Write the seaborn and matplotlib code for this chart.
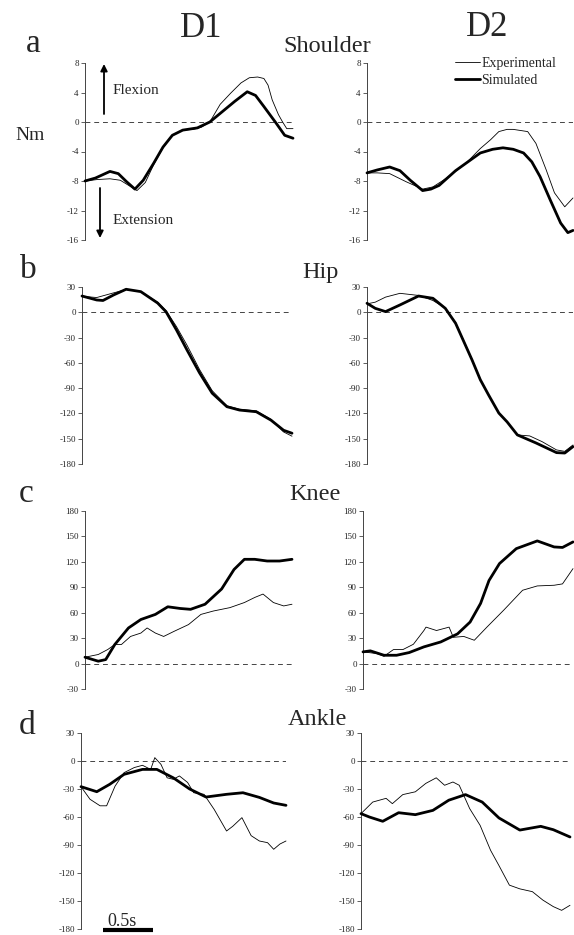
import matplotlib
matplotlib.use('Agg')
import matplotlib.pyplot as plt
import seaborn as sns
import pandas as pd
from matplotlib.lines import Line2D

# ---------------- data (normalised movement time 0..1) ----------------
# Shoulder (Nm)
sh1_t_sim = [0, .05, .12, .16, .20, .24, .28, .33, .375, .42, .47, .54, .60, .66, .72, .78, .82, .86, .92, .96, 1.0]
sh1_sim = [-8.0, -7.6, -6.7, -7.0, -8.1, -9.1, -7.9, -5.6, -3.4, -1.8, -1.1, -0.8, 0.0, 1.4, 2.8, 4.1, 3.6, 2.1, -0.2, -1.8, -2.2]
sh1_t_exp = [0, .06, .12, .17, .21, .25, .29, .33, .375, .42, .47, .52, .56, .60, .65, .70, .75, .79, .83, .86, .88, .90, .93, .95, .97, 1.0]
sh1_exp = [-8.0, -7.8, -7.7, -7.9, -8.6, -9.3, -8.2, -5.8, -3.5, -1.8, -1.1, -1.0, -0.7, 0.0, 2.4, 3.9, 5.3, 6.0, 6.1, 5.9, 5.0, 3.0, 1.0, 0.0, -0.9, -0.9]

sh2_t_sim = [0, .05, .11, .16, .21, .27, .31, .35, .43, .48, .55, .61, .66, .71, .76, .80, .84, .89, .94, .975, 1.0]
sh2_sim = [-6.9, -6.5, -6.1, -6.6, -7.9, -9.3, -9.1, -8.6, -6.6, -5.6, -4.2, -3.7, -3.5, -3.7, -4.2, -5.4, -7.4, -10.6, -13.7, -15.0, -14.7]
sh2_t_exp = [0, .05, .11, .19, .27, .32, .37, .43, .48, .55, .60, .64, .68, .71, .78, .82, .87, .91, .96, 1.0]
sh2_exp = [-6.9, -6.9, -7.0, -8.1, -9.1, -8.8, -7.9, -6.7, -5.6, -3.6, -2.4, -1.3, -1.0, -1.0, -1.3, -2.9, -6.5, -9.6, -11.5, -10.3]

# Hip (Nm)
hp1_t_sim = [0, .07, .10, .15, .21, .28, .36, .40, .45, .50, .56, .62, .69, .75, .83, .90, .96, 1.0]
hp1_sim = [19.3, 14.6, 14.0, 20.5, 27.3, 24.5, 11.0, 0.7, -21, -44.7, -72, -96, -112, -116, -118, -128, -140, -143.5]
hp1_t_exp = [0, .07, .15, .21, .28, .36, .40, .45, .50, .56, .62, .69, .75, .83, .90, .96, 1.0]
hp1_exp = [19, 17.5, 23, 27, 24.5, 12, 2, -17, -39, -68, -93, -111, -115, -117, -127, -142, -147]

hp2_t_sim = [0, .04, .09, .16, .25, .32, .38, .43, .51, .55, .59, .64, .68, .73, .82, .92, .96, 1.0]
hp2_sim = [10.7, 4.7, 0.8, 8.7, 19.3, 16.6, 4.7, -13, -56.6, -80, -98, -119.6, -130, -145.5, -155, -166.5, -167, -159.4]
hp2_t_exp = [0, .04, .09, .16, .25, .32, .38, .43, .51, .55, .59, .64, .68, .73, .79, .85, .92, .96, 1.0]
hp2_exp = [10, 12, 18, 22.5, 20, 14, 5, -12, -56, -80, -98, -119.6, -130, -145.5, -146.7, -153.5, -163.3, -165, -157.4]

# Knee (Nm)
kn1_t_sim = [0, .064, .10, .144, .21, .27, .34, .40, .46, .51, .58, .66, .72, .77, .82, .88, .94, 1.0]
kn1_sim = [7.5, 2.8, 4.7, 22.5, 42, 52, 58, 67, 65, 64, 70, 88, 111, 123, 123, 121, 121, 123]
kn1_t_exp = [0, .064, .11, .144, .176, .22, .27, .30, .34, .38, .43, .50, .56, .62, .70, .77, .82, .86, .91, .96, 1.0]
kn1_exp = [7.5, 10.7, 16.6, 22.5, 22.5, 32, 36, 42, 36, 32, 38, 46, 58, 62, 66, 72, 78, 82, 72, 68, 70]

kn2_t_sim = [0, .035, .10, .16, .22, .29, .37, .45, .51, .56, .60, .65, .73, .83, .91, .95, 1.0]
kn2_sim = [13.8, 15, 9.8, 9.8, 13, 19.7, 25.5, 35, 49, 71, 98, 118, 135.6, 144.7, 137.6, 137, 143.5]
kn2_t_exp = [0, .066, .10, .145, .19, .24, .29, .30, .35, .41, .43, .48, .53, .59, .67, .76, .83, .91, .95, 1.0]
kn2_exp = [13.8, 11.8, 8.6, 16.5, 16.5, 22.8, 39, 43, 39, 43, 31, 32, 27.5, 43, 63, 86.5, 91.6, 92.4, 94, 112]

# Ankle (Nm)
an1_t_sim = [0, .077, .14, .21, .30, .37, .45, .53, .61, .71, .79, .87, .94, 1.0]
an1_sim = [-27.5, -32.9, -25, -14.3, -9, -9, -18, -30, -38.6, -35.7, -34, -39, -45, -47.5]
an1_t_exp = [0, .044, .093, .125, .166, .21, .26, .30, .34, .36, .39, .42, .45, .48, .52, .55, .60, .65, .71, .74, .785, .83, .87, .91, .94, .97, 1.0]
an1_exp = [-27.5, -41, -48, -48, -27, -12.5, -7, -4.6, -9, 3.6, -3.6, -18, -19.6, -16, -23, -34, -35.7, -52, -75, -70, -60.7, -80, -85.7, -87.5, -94.6, -89, -85.7]

an2_t_sim = [0, .04, .104, .18, .26, .344, .42, .50, .58, .66, .76, .86, .92, 1.0]
an2_sim = [-56.4, -60, -64.6, -55.4, -57.5, -52.9, -42, -36, -44, -61, -74, -70, -73.6, -81.4]
an2_t_exp = [0, .056, .12, .15, .20, .26, .31, .36, .40, .44, .47, .52, .57, .62, .66, .71, .76, .82, .87, .92, .96, 1.0]
an2_exp = [-56.4, -44, -40, -45.7, -36, -33, -24, -18, -26, -22.5, -26, -51, -69, -95.7, -112, -133, -137, -140, -149, -156, -160, -154.6]

row_ylims = [(-16, 8), (-180, 30), (-30, 180), (-180, 30)]
row_ticks = [list(range(-16, 9, 4)), list(range(-180, 31, 30)), list(range(-30, 181, 30)), list(range(-180, 31, 30))]
joint_names = ['Shoulder', 'Hip', 'Knee', 'Ankle']
row_letters = ['a', 'b', 'c', 'd']
col_titles = ['D1', 'D2']

# ---------------- figure ----------------
sns.set_theme(style='white')
plt.rcParams['font.family'] = ['Liberation Serif', 'DejaVu Serif']
plt.rcParams['axes.unicode_minus'] = False

W, H = 574, 935
fig = plt.figure(figsize=(W / 100, H / 100), dpi=100)


def fx(x):
    return x / W


def fy(y):
    return 1 - y / H


def add_ax(x0, x1, y0, y1):
    return fig.add_axes([fx(x0), fy(y1), (x1 - x0) / W, (y1 - y0) / H])


# pixel geometry of panels: (y_top, y_bottom, left (x0, x1), right (x0, x1))
geom = [
    (63, 240, (85, 293), (367, 573)),
    (287, 464, (82, 292), (367, 573)),
    (511, 689, (85, 292), (363, 573)),
    (733, 929, (81, 286), (361, 570)),
]

series = [
    [(sh1_t_exp, sh1_exp, sh1_t_sim, sh1_sim), (sh2_t_exp, sh2_exp, sh2_t_sim, sh2_sim)],
    [(hp1_t_exp, hp1_exp, hp1_t_sim, hp1_sim), (hp2_t_exp, hp2_exp, hp2_t_sim, hp2_sim)],
    [(kn1_t_exp, kn1_exp, kn1_t_sim, kn1_sim), (kn2_t_exp, kn2_exp, kn2_t_sim, kn2_sim)],
    [(an1_t_exp, an1_exp, an1_t_sim, an1_sim), (an2_t_exp, an2_exp, an2_t_sim, an2_sim)],
]

for r in range(4):
    yt, yb, lx, rx = geom[r]
    for c, (x0, x1) in enumerate([lx, rx]):
        ax = add_ax(x0, x1, yt, yb)
        te, ve, ts, vs = series[r][c]
        ax.axhline(0, color='#444444', lw=0.7, ls=(0, (5, 4)), zorder=1)
        df_e = pd.DataFrame({'t': te, 'v': ve})
        df_s = pd.DataFrame({'t': ts, 'v': vs})
        sns.lineplot(data=df_e, x='t', y='v', ax=ax, color='black', lw=0.6,
                     estimator=None, sort=False, legend=False, clip_on=False, zorder=3,
                     solid_joinstyle='round')
        sns.lineplot(data=df_s, x='t', y='v', ax=ax, color='black', lw=2.0,
                     estimator=None, sort=False, legend=False, clip_on=False, zorder=4,
                     solid_joinstyle='round')
        ax.set_xlim(0, 1)
        ax.set_ylim(*row_ylims[r])
        ax.set_yticks(row_ticks[r])
        ax.set_yticklabels([str(v) for v in row_ticks[r]])
        ax.set_xticks([])
        ax.set_xlabel('')
        ax.set_ylabel('')
        ax.patch.set_alpha(0)
        for s in ['top', 'right', 'bottom']:
            ax.spines[s].set_visible(False)
        ax.spines['left'].set_color('#444444')
        ax.spines['left'].set_linewidth(0.7)
        ax.tick_params(axis='y', direction='out', length=3, width=0.6, color='#444444',
                       labelsize=6.5, pad=1.5, left=True)

# ---------------- texts ----------------
fig.text(fx(201), fy(37), col_titles[0], ha='center', va='baseline', fontsize=25)
fig.text(fx(487), fy(36), col_titles[1], ha='center', va='baseline', fontsize=25)

letter_pos = [(33, 52), (28, 278), (26, 502), (27, 734)]
for (x, y), s in zip(letter_pos, row_letters):
    fig.text(fx(x), fy(y), s, ha='center', va='baseline', fontsize=24)

joint_pos = [(327, 52), (320, 278), (315, 500), (317, 725)]
for (x, y), s in zip(joint_pos, joint_names):
    fig.text(fx(x), fy(y), s, ha='center', va='baseline', fontsize=17.5)

fig.text(fx(30), fy(140), 'Nm', ha='center', va='baseline', fontsize=14)
fig.text(fx(113), fy(90), 'Flexion', ha='left', va='center', fontsize=11)
fig.text(fx(113), fy(220), 'Extension', ha='left', va='center', fontsize=11)

arrow_kw = dict(arrowstyle='-|>', lw=1.3, color='black', mutation_scale=10,
                shrinkA=0, shrinkB=0)
fig.axes[0].annotate('', xy=(fx(104), fy(64)), xytext=(fx(104), fy(114)),
                     xycoords='figure fraction', textcoords='figure fraction',
                     arrowprops=arrow_kw, annotation_clip=False)
fig.axes[0].annotate('', xy=(fx(100), fy(238)), xytext=(fx(100), fy(188)),
                     xycoords='figure fraction', textcoords='figure fraction',
                     arrowprops=arrow_kw, annotation_clip=False)

# legend
handles = [Line2D([], [], color='black', lw=0.6), Line2D([], [], color='black', lw=2.0)]
fig.legend(handles, ['Experimental', 'Simulated'], loc='upper left',
           bbox_to_anchor=(fx(455), fy(57)), frameon=False, fontsize=10,
           handlelength=1.8, handletextpad=0.1, borderpad=0, borderaxespad=0,
           labelspacing=0.3)

# time scale bar
fig.text(fx(122), fy(926), '0.5s', ha='center', va='baseline', fontsize=13)
fig.add_artist(Line2D([fx(103), fx(153)], [fy(930), fy(930)], transform=fig.transFigure,
                      lw=3, color='black', solid_capstyle='butt'))

fig.savefig('out.png', dpi=100)
